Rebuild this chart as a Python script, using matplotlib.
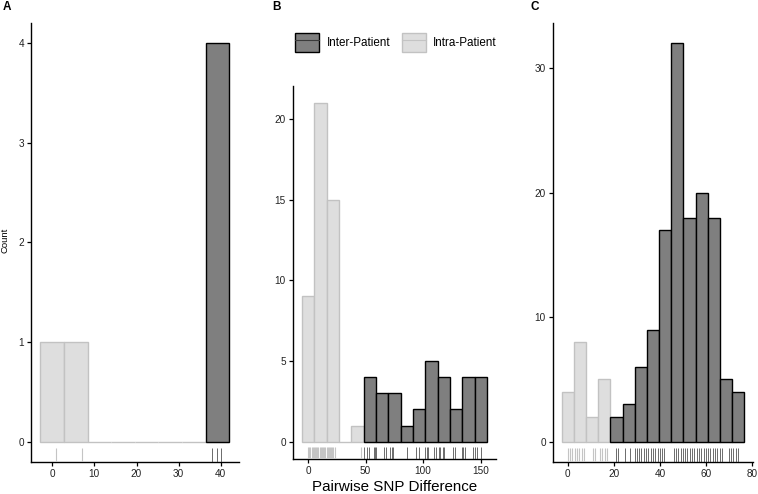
import numpy as np
import matplotlib
matplotlib.use("Agg")
import matplotlib.pyplot as plt
from matplotlib.patches import Patch
from matplotlib.lines import Line2D

plt.rcParams["font.family"] = ["Liberation Sans", "DejaVu Sans"]

# Panel A: 8 bins, counts per bin
a_intra_counts = [1, 1, 0, 0, 0, 0, 0, 0]
a_inter_counts = [0, 0, 0, 0, 0, 0, 0, 4]
a_intra_rug = [1, 7]
a_inter_rug = [38, 39, 40]

# Panel B: 15 bins
b_intra_counts = [9, 21, 15, 0, 1, 0, 0, 0, 0, 0, 0, 0, 0, 0, 0]
b_inter_counts = [0, 0, 0, 0, 0, 4, 3, 3, 1, 2, 5, 4, 2, 4, 4]
b_intra_rug = [0, 1, 2, 3, 4, 5, 6, 7, 8, 9, 10, 11, 12, 13, 14, 15, 16,
               17, 18, 19, 20, 21, 22, 23, 46]
b_inter_rug = [49, 51, 53, 57, 58, 59, 66, 68, 71, 73, 74, 86, 94, 96, 102,
               103, 104, 109, 111, 114, 115, 117, 118, 126, 128, 134, 135,
               136, 143, 145, 147, 150]

# Panel C: 15 bins
c_intra_counts = [4, 8, 2, 5, 0, 0, 0, 0, 0, 0, 0, 0, 0, 0, 0]
c_inter_counts = [0, 0, 0, 0, 2, 3, 6, 9, 17, 32, 18, 20, 18, 5, 4]
c_intra_rug = [0, 1, 2, 3, 4, 5, 6, 7, 11, 12, 14, 15, 16, 17]
c_inter_rug = [21, 22, 25, 27, 29, 30, 31, 32, 33, 34, 35, 36, 37, 38, 39,
               40, 41, 42, 46, 47, 48, 49, 50, 51, 52, 53, 54, 55, 56, 57,
               58, 59, 60, 61, 62, 63, 64, 65, 66, 67, 70, 71, 72, 73, 74]

DARK = "#7f7f7f"
DARK_EDGE = "#000000"
LIGHT = "#dedede"
LIGHT_EDGE = "#c2c2c2"
TICK_FS = 7.2


def draw_panel(ax, start, width, intra, inter, intra_rug, inter_rug, xticks, yticks):
    intra = np.array(intra)
    inter = np.array(inter)
    n = len(intra)
    edges = start + width * np.arange(n + 1)
    lefts = edges[:-1]

    ax.bar(lefts, intra, width=width, align="edge", color=LIGHT,
           edgecolor=LIGHT_EDGE, linewidth=1.0, zorder=2)
    nz = inter > 0
    ax.bar(lefts[nz], inter[nz], width=width, align="edge", color=DARK,
           edgecolor=DARK_EDGE, linewidth=1.0, zorder=3)

    # rug along the bottom, 3% of panel height
    trans = ax.get_xaxis_transform()
    ax.vlines(intra_rug, 0, 0.03, transform=trans, color="#c4c4c4",
              linewidth=0.8, zorder=4)
    ax.vlines(inter_rug, 0, 0.03, transform=trans, color="#3a3a3a",
              linewidth=0.7, alpha=0.75, zorder=4)

    span = edges[-1] - edges[0]
    ax.set_xlim(edges[0] - 0.05 * span, edges[-1] + 0.05 * span)
    ymax = max(intra.max(), inter.max())
    ax.set_ylim(-0.05 * ymax, 1.05 * ymax)

    ax.set_xticks(xticks)
    ax.set_yticks(yticks)
    for side in ["top", "right"]:
        ax.spines[side].set_visible(False)
    for side in ["left", "bottom"]:
        ax.spines[side].set_linewidth(1.0)
    ax.tick_params(direction="out", length=3, width=0.9, labelsize=TICK_FS,
                   pad=2, colors="black")
    for lab in ax.get_xticklabels() + ax.get_yticklabels():
        lab.set_color("#222222")


W, H = 758, 494
fig = plt.figure(figsize=(W / 100, H / 100), dpi=100)


def px_axes(left, right, top, bottom):
    return fig.add_axes([left / W, (H - bottom) / H, (right - left) / W,
                         (bottom - top) / H])


axA = px_axes(31, 238.7, 23.3, 461.6)
axB = px_axes(292.7, 496.1, 86, 458.6)
axC = px_axes(552.7, 753.3, 23.3, 461.6)

draw_panel(axA, -2.8, 5.6, a_intra_counts, a_inter_counts, a_intra_rug,
           a_inter_rug, [0, 10, 20, 30, 40], [0, 1, 2, 3, 4])
draw_panel(axB, -5.357, 10.714, b_intra_counts, b_inter_counts, b_intra_rug,
           b_inter_rug, [0, 50, 100, 150], [0, 5, 10, 15, 20])
draw_panel(axC, -2.643, 5.286, c_intra_counts, c_inter_counts, c_intra_rug,
           c_inter_rug, [0, 20, 40, 60, 80], [0, 10, 20, 30])

fig.text(5.5 / W, 1 - 240 / H, "Count", rotation=90, ha="center", va="center",
         fontsize=6.8)
fig.text(394.4 / W, 1 - 487 / H, "Pairwise SNP Difference", ha="center",
         va="center", fontsize=10.9)

for label, x in [("A", 6.7), ("B", 276.7), ("C", 535)]:
    fig.text(x / W, 1 - 7.5 / H, label, ha="center", va="center",
             fontsize=8.5, fontweight="bold")

handles = [
    (Patch(facecolor=DARK, edgecolor=DARK_EDGE, linewidth=1.0),
     Line2D([], [], color="#3a3a3a", linewidth=0.8)),
    (Patch(facecolor=LIGHT, edgecolor=LIGHT_EDGE, linewidth=1.0),
     Line2D([], [], color="#c4c4c4", linewidth=0.8)),
]
fig.legend(handles, ["Inter-Patient", "Intra-Patient"], ncol=2,
           loc="upper left", bbox_to_anchor=(295 / W, 1 - 33 / H),
           frameon=False, fontsize=8.4, borderpad=0, borderaxespad=0,
           handlelength=2.06, handleheight=2.14, handletextpad=0.63,
           columnspacing=1.0)

fig.savefig("out.png", dpi=100)
